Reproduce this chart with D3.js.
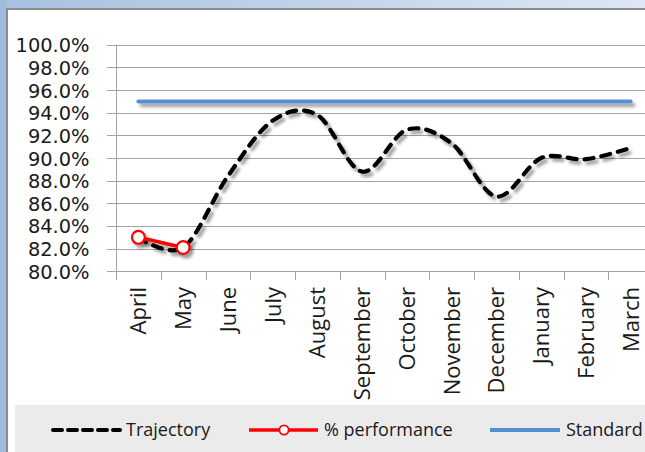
<!DOCTYPE html>
<html>
<head>
<meta charset="utf-8">
<script src="https://cdn.jsdelivr.net/npm/d3@7"></script>
<style>
  html, body { margin: 0; padding: 0; background: #fff; }
  svg { display: block; }
  text { font-family: "Open Sans", sans-serif; fill: #1a1a1a; }
</style>
</head>
<body>
<svg id="chart" width="645" height="452"></svg>
<script>
// Monthly performance against trajectory and standard
const months = ["April", "May", "June", "July", "August", "September",
                "October", "November", "December", "January", "February", "March"];
const trajectory = [83.0, 82.1, 88.4, 93.3, 93.8, 88.8, 92.5, 91.3, 86.6, 90.0, 89.9, 90.9];
const performance = [83.0, 82.1, null, null, null, null, null, null, null, null, null, null];
const standard = [95, 95, 95, 95, 95, 95, 95, 95, 95, 95, 95, 95];
const yTicks = [80, 82, 84, 86, 88, 90, 92, 94, 96, 98, 100];
const legendItems = ["Trajectory", "% performance", "Standard"];

const svg = d3.select("#chart");
const W = 645, H = 452;

// window frame around the chart sheet
const defs = svg.append("defs");
const grad = defs.append("linearGradient").attr("id", "topbar")
  .attr("x1", 0).attr("x2", 1).attr("y1", 0).attr("y2", 0);
grad.append("stop").attr("offset", 0).attr("stop-color", "#a6c0df");
grad.append("stop").attr("offset", 1).attr("stop-color", "#dde7f3");

// soft drop shadow under the series lines (user-space region so flat lines keep it)
const shadow = defs.append("filter").attr("id", "shadow")
  .attr("filterUnits", "userSpaceOnUse")
  .attr("x", 0).attr("y", 0).attr("width", W).attr("height", H);
shadow.append("feDropShadow").attr("dx", 3).attr("dy", 3.5)
  .attr("stdDeviation", 1.8).attr("flood-color", "#000").attr("flood-opacity", 0.38);

svg.append("rect").attr("width", W).attr("height", H).attr("fill", "#fff");
svg.append("rect").attr("x", 0).attr("y", 0).attr("width", W).attr("height", 8).attr("fill", "url(#topbar)");
svg.append("rect").attr("x", 0).attr("y", 0).attr("width", 6).attr("height", H).attr("fill", "#9fbadc");
svg.append("line").attr("x1", 6).attr("x2", W).attr("y1", 9).attr("y2", 9)
  .attr("stroke", "#8c8c8c").attr("stroke-width", 2);
svg.append("line").attr("x1", 7).attr("x2", 7).attr("y1", 8).attr("y2", H)
  .attr("stroke", "#8c8c8c").attr("stroke-width", 2);

// scales
const x = d3.scaleBand().domain(months).range([116, 116 + 12 * 44.75]);
const y = d3.scaleLinear().domain([80, 100]).range([271.3, 44.8]);
const cx = m => x(m) + x.bandwidth() / 2;

// horizontal gridlines (extend left of the axis as tick marks)
svg.append("g").selectAll("line").data(yTicks).join("line")
  .attr("x1", 107).attr("x2", W + 20)
  .attr("y1", d => Math.round(y(d)) + 0.5).attr("y2", d => Math.round(y(d)) + 0.5)
  .attr("stroke", "#a3a3a3").attr("stroke-width", 1);

// y axis
const yAxis = svg.append("g").attr("transform", "translate(116.5,0)")
  .call(d3.axisLeft(y).tickValues(yTicks).tickSize(0).tickPadding(27)
    .tickFormat(d => d.toFixed(1) + "%"));
yAxis.select(".domain").remove();
yAxis.selectAll("text").style("font-size", "19.4px").style("font-family", "'DejaVu Sans', sans-serif")
  .attr("fill", "#1a1a1a").attr("dy", "0.36em");
svg.append("line").attr("x1", 116.5).attr("x2", 116.5).attr("y1", y(100)).attr("y2", 280)
  .attr("stroke", "#a3a3a3");

// x axis tick marks at band boundaries
const xAxis = svg.append("g").attr("transform", "translate(0,271.5)")
  .call(d3.axisBottom(x).tickSize(0).tickPadding(0));
xAxis.select(".domain").remove();
xAxis.selectAll("text").remove();
svg.append("g").selectAll("line").data(months.concat(["end"])).join("line")
  .attr("x1", (d, i) => Math.round(116 + i * x.bandwidth()) + 0.5)
  .attr("x2", (d, i) => Math.round(116 + i * x.bandwidth()) + 0.5)
  .attr("y1", 271).attr("y2", 280).attr("stroke", "#a3a3a3");

// rotated month labels
svg.append("g").selectAll("text").data(months).join("text")
  .attr("transform", d => `translate(${cx(d) + 8},287) rotate(-90)`)
  .attr("text-anchor", "end")
  .style("font-size", "22px")
  .text(d => d);

// standard line
const line = d3.line().x((d, i) => cx(months[i])).y(d => y(d));
svg.append("path").datum(standard)
  .attr("d", line)
  .attr("fill", "none").attr("stroke", "#558ed5").attr("stroke-width", 4)
  .attr("stroke-linecap", "round").attr("filter", "url(#shadow)");

// trajectory (smoothed, dashed)
const smooth = d3.line().x((d, i) => cx(months[i])).y(d => y(d)).curve(d3.curveCardinal.tension(0));
svg.append("path").datum(trajectory)
  .attr("d", smooth)
  .attr("fill", "none").attr("stroke", "#000").attr("stroke-width", 4.2)
  .attr("stroke-dasharray", "9,8").attr("stroke-linecap", "round")
  .attr("filter", "url(#shadow)");

// performance line with markers
const perf = performance.map((v, i) => ({ m: months[i], v })).filter(d => d.v !== null);
const pg = svg.append("g").attr("filter", "url(#shadow)");
pg.append("path").datum(perf)
  .attr("d", d3.line().x(d => cx(d.m)).y(d => y(d.v)))
  .attr("fill", "none").attr("stroke", "#ff0000").attr("stroke-width", 3.5);
pg.selectAll("circle").data(perf).join("circle")
  .attr("cx", d => cx(d.m)).attr("cy", d => y(d.v)).attr("r", 6.4)
  .attr("fill", "#fff").attr("stroke", "#ff0000").attr("stroke-width", 2.2);

// legend
svg.append("rect").attr("x", 15).attr("y", 405).attr("width", W).attr("height", 60).attr("fill", "#ebebeb");
const ly = 430;
const lg = svg.append("g");
lg.append("line").attr("x1", 53).attr("x2", 120).attr("y1", ly).attr("y2", ly)
  .attr("stroke", "#000").attr("stroke-width", 4).attr("stroke-dasharray", "9,6")
  .attr("stroke-linecap", "round");
lg.append("line").attr("x1", 249).attr("x2", 318).attr("y1", ly).attr("y2", ly)
  .attr("stroke", "#ff0000").attr("stroke-width", 3.5);
lg.append("circle").attr("cx", 284).attr("cy", ly).attr("r", 4.6)
  .attr("fill", "#fff").attr("stroke", "#ff0000").attr("stroke-width", 1.8);
lg.append("line").attr("x1", 490).attr("x2", 560).attr("y1", ly).attr("y2", ly)
  .attr("stroke", "#558ed5").attr("stroke-width", 4);
const lx = [126, 324, 566];
lg.selectAll("text").data(legendItems).join("text")
  .attr("x", (d, i) => lx[i]).attr("y", ly).attr("dy", "0.35em")
  .style("font-size", "18px")
  .text(d => d);
</script>
</body>
</html>
